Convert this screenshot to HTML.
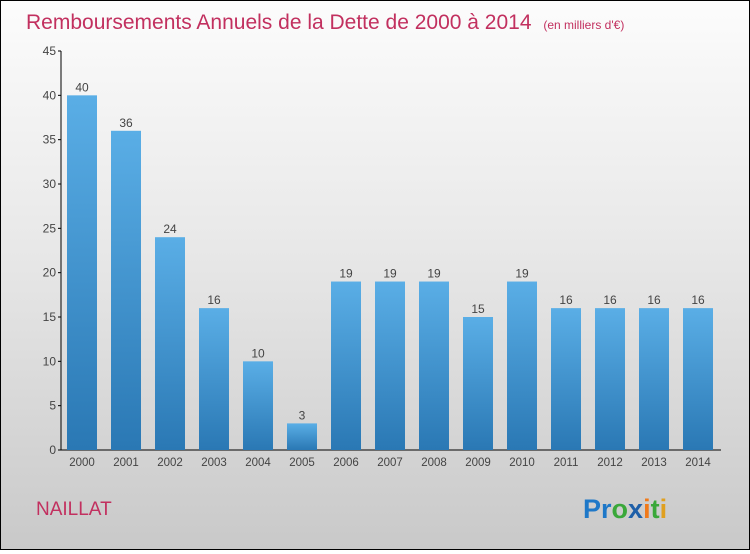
<!DOCTYPE html>
<html><head><meta charset="utf-8"><style>
body{margin:0;width:750px;height:550px;overflow:hidden;font-family:"Liberation Sans",sans-serif}
#wrap{position:absolute;left:0;top:0;width:748px;height:548px;border:1px solid #000;background:linear-gradient(#fcfcfc,#e8e8e8 45%,#c9c9c9)}
</style></head><body>
<div id="wrap">
<svg id="c" width="748" height="548" xmlns="http://www.w3.org/2000/svg">
<defs><linearGradient id="g" x1="0" y1="0" x2="0" y2="1"><stop offset="0" stop-color="#5aaee6"/><stop offset="1" stop-color="#2a78b4"/></linearGradient></defs>
<text x="25" y="28" font-size="21" fill="#c2305f">Remboursements Annuels de la Dette de 2000 à 2014 <tspan font-size="12" dx="6">(en milliers d'€)</tspan></text>
<text x="35" y="514" font-size="19" fill="#c2305f">NAILLAT</text>
<text x="582" y="517" font-size="27" font-weight="bold"><tspan fill="#1e78c8">Pr</tspan><tspan fill="#3aa83a">o</tspan><tspan fill="#1e5fa8">x</tspan><tspan fill="#f07a1a">i</tspan><tspan fill="#3aa83a">t</tspan><tspan fill="#e0a020">i</tspan></text>
<g id="plot"></g>
</svg></div>
<script>
const years=["2000","2001","2002","2003","2004","2005","2006","2007","2008","2009","2010","2011","2012","2013","2014"];
const values=[40,36,24,16,10,3,19,19,19,15,19,16,16,16,16];
const yTicks=[0,5,10,15,20,25,30,35,40,45];
const NS="http://www.w3.org/2000/svg";
const g=document.getElementById('plot');
const y0=449,yTop=50,yMax=45;
const ys=v=>y0-(y0-yTop)*v/yMax;
const xs=i=>81+44*i;
function mk(t,a,txt){const e=document.createElementNS(NS,t);for(const k in a)e.setAttribute(k,a[k]);if(txt!==undefined)e.textContent=txt;g.appendChild(e);return e;}
const ya=mk('line',{x1:60,y1:yTop,x2:60,y2:y0,stroke:'#000'});


const xa=mk('line',{x1:60,y1:y0,x2:720,y2:y0,stroke:'#000'});


yTicks.forEach(t=>{
 mk('line',{x1:57,y1:ys(t),x2:60,y2:ys(t),stroke:'#000'});
 const l=mk('text',{x:55,y:ys(t)+4,'font-size':12,'text-anchor':'end',fill:'#444'},t);
 
 
});
values.forEach((v,i)=>{
 const b=mk('rect',{x:xs(i)-15,y:ys(v),width:30,height:y0-ys(v),fill:'url(#g)'});
 
 
 const vl=mk('text',{x:xs(i),y:ys(v)-4,'font-size':12,'text-anchor':'middle',fill:'#444'},v);
 
 
 const xl=mk('text',{x:xs(i),y:465,'font-size':11.5,'text-anchor':'middle',fill:'#444'},years[i]);
 
 
});
</script>
</body></html>
